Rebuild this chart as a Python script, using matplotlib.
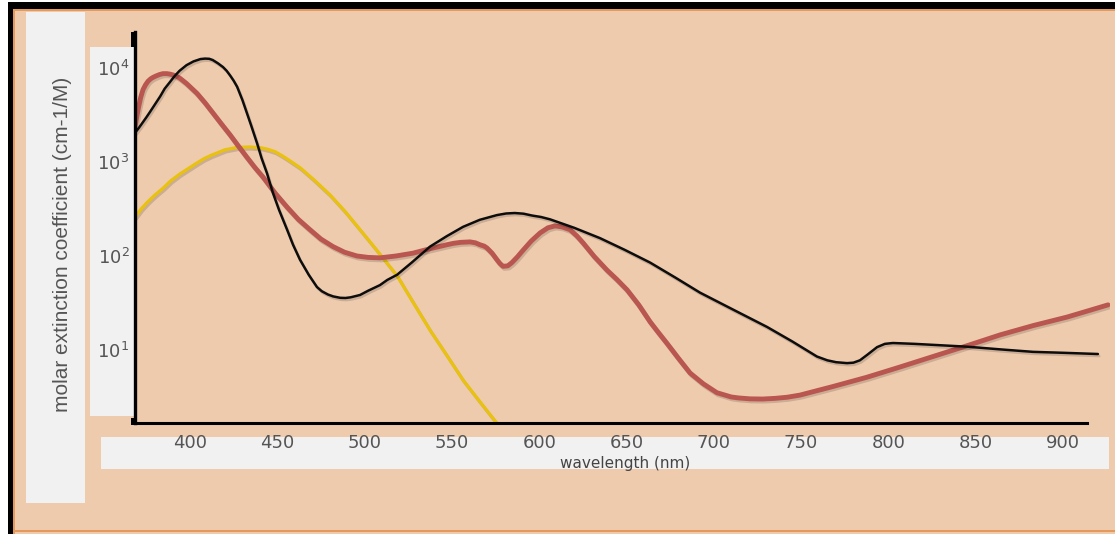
import numpy as np
import matplotlib
matplotlib.use("Agg")
import matplotlib.pyplot as plt
from matplotlib.patches import Rectangle
import matplotlib.patheffects as pe

# --- data (wavelength in nm, log10 of molar extinction coefficient)
black_nm = [368.5, 371, 375, 377, 380, 383, 385.5, 388.5, 391, 394, 398, 402, 406, 408.6,
            411, 413, 416, 418.9, 421, 423, 425, 427, 430, 432.6, 435, 438.4, 441, 444.1,
            447.5, 451, 455.6, 459, 463, 468, 472.7, 475.5, 479, 482, 486, 489, 492, 497.4,
            502, 508.8, 513, 518.6, 527, 537.5, 547, 556.4, 566, 575.8, 581, 586, 591, 596,
            601, 606.2, 620, 634.8, 649, 663.5, 678, 692.1, 711, 730.5, 745, 759.1, 765,
            770, 776.3, 780, 783.7, 788, 793.5, 798, 802.6, 815, 830, 845, 865, 882.8, 900,
            920]
black_log = [3.31, 3.37, 3.475, 3.53, 3.615, 3.70, 3.78, 3.85, 3.91, 3.97, 4.03, 4.07, 4.095,
             4.10, 4.098, 4.085, 4.05, 4.01, 3.97, 3.92, 3.865, 3.80, 3.66, 3.52, 3.39, 3.20,
             3.04, 2.88, 2.67, 2.49, 2.28, 2.12, 1.96, 1.80, 1.67, 1.625, 1.59, 1.57, 1.555,
             1.553, 1.56, 1.585, 1.63, 1.69, 1.745, 1.80, 1.93, 2.10, 2.21, 2.31, 2.385,
             2.435, 2.452, 2.457, 2.45, 2.43, 2.415, 2.39, 2.30, 2.19, 2.065, 1.93, 1.77,
             1.61, 1.43, 1.245, 1.09, 0.93, 0.89, 0.87, 0.86, 0.865, 0.89, 0.95, 1.03,
             1.065, 1.074, 1.065, 1.05, 1.035, 1.005, 0.98, 0.97, 0.957]

red_nm = [368.5, 369.5, 370.5, 371.8, 373.1, 374.5, 376, 377.5, 378.8, 380.5, 382.5, 384.5,
          386.8, 388.5, 390.5, 392.5, 394.3, 398, 404, 408.6, 413.2, 418, 422.9, 427.7,
          432.6, 437, 441.8, 448.7, 455.6, 462, 468.7, 475, 481.9, 488.5, 495.6, 502,
          508.8, 518, 527.7, 537, 547.2, 551, 555, 560.4, 563.5, 566, 568.5, 570.1, 573,
          575.8, 577.5, 579.3, 582, 584.4, 587.5, 590.7, 595.5, 600.5, 605, 609, 613,
          617.6, 621.5, 625.1, 631.5, 638.8, 644.5, 650.3, 657, 663.5, 668.5, 673.2,
          679.8, 686.4, 694, 701.8, 710, 714, 720.7, 728, 735, 742, 749.4, 768, 787.7,
          806, 825.5, 845, 863.9, 883, 902.3, 915, 925.8]
red_log = [3.37, 3.48, 3.58, 3.69, 3.77, 3.82, 3.86, 3.885, 3.90, 3.915, 3.93, 3.94,
           3.94, 3.935, 3.925, 3.91, 3.89, 3.835, 3.73, 3.63, 3.52, 3.405, 3.29, 3.17,
           3.05, 2.945, 2.84, 2.67, 2.52, 2.39, 2.28, 2.18, 2.10, 2.04, 2.00, 1.985,
           1.98, 2.00, 2.03, 2.075, 2.12, 2.135, 2.145, 2.15, 2.14, 2.12, 2.105, 2.085, 2.03,
           1.96, 1.92, 1.89, 1.895, 1.93, 1.99, 2.06, 2.16, 2.245, 2.30, 2.32, 2.31,
           2.28, 2.215, 2.14, 1.995, 1.85, 1.75, 1.64, 1.48, 1.30, 1.18, 1.07,
           0.91, 0.755, 0.64, 0.545, 0.50, 0.49, 0.48, 0.478, 0.485, 0.497, 0.52, 0.61, 0.71,
           0.815, 0.93, 1.045, 1.16, 1.26, 1.35, 1.42, 1.48]

yellow_nm = [368.5, 372, 376, 380, 384.5, 389, 394, 399, 404, 408, 412, 416, 420, 427,
             434.4, 441, 444.5, 448.7, 452, 455, 459, 463, 471, 480.2, 489, 497.4, 504,
             510.5, 518.6, 528, 537.5, 547, 556.4, 566, 575.8, 580]
yellow_log = [2.415, 2.50, 2.58, 2.65, 2.72, 2.80, 2.87, 2.93, 2.99, 3.035, 3.07, 3.10, 3.13,
              3.155, 3.16, 3.15, 3.135, 3.11, 3.075, 3.04, 2.99, 2.94, 2.81, 2.65, 2.47, 2.28,
              2.13, 1.98, 1.79, 1.50, 1.21, 0.945, 0.68, 0.45, 0.22, 0.11]

xticks = [400, 450, 500, 550, 600, 650, 700, 750, 800, 850, 900]
yticks = [10, 100, 1000, 10000]
ytick_labels = [r'$\mathdefault{10^{1}}$', r'$\mathdefault{10^{2}}$',
                r'$\mathdefault{10^{3}}$', r'$\mathdefault{10^{4}}$']

W, H = 1115, 534
peach = '#EFCBAE'
box = '#F1F1F1'

plt.rcParams['font.family'] = ['DejaVu Sans']
fig = plt.figure(figsize=(W / 100, H / 100), dpi=100, facecolor='white')

def rect(x0, y0, x1, y1, color, z=0):
    # pixel box (top-left origin) -> figure fraction
    fig.add_artist(Rectangle((x0 / W, 1 - y1 / H), (x1 - x0) / W, (y1 - y0) / H,
                             transform=fig.transFigure, color=color, lw=0, zorder=z))

# frame / background
rect(8, 2, W, H, peach, -5)
rect(8, 2, W, 9, '#000000', -4)
rect(8, 2, 13, H, '#000000', -4)
rect(13, 9, W, 11, '#E59A5C', -4)
rect(13, 11, 15, H, '#E59A5C', -4)
rect(13, 530, W, 532, '#E59A5C', -4)
# white label boxes
rect(26, 12, 85, 503, box, -3)
rect(90, 47, 135, 416, box, -3)
rect(101, 437, 1109, 469, box, -3)

# axes
x_left = 400 + (135 - 190) / 1.746
x_right = 400 + (1110 - 190) / 1.746
x_axis_end = 400 + (1087 - 190) / 1.746
ax = fig.add_axes([135 / W, 1 - 423 / H, (1110 - 135) / W, (423 - 32) / H])
ax.patch.set_visible(False)
ax.set_yscale('log')
ax.set_xlim(x_left, x_right)
ax.set_ylim(10 ** 0.223, 10 ** 4.383)

shadow = [pe.SimpleLineShadow(offset=(1, -1.5), alpha=0.15), pe.Normal()]
ax.plot(yellow_nm, 10 ** np.array(yellow_log), color='#E8C20E', lw=2.3,
        solid_capstyle='round', solid_joinstyle='round', path_effects=shadow)
ax.plot(red_nm, 10 ** np.array(red_log), color='#B8564F', lw=3.5,
        solid_capstyle='round', solid_joinstyle='round', path_effects=shadow)
ax.plot(black_nm, 10 ** np.array(black_log), color='#0d0d0d', lw=1.8,
        solid_capstyle='round', solid_joinstyle='round', path_effects=shadow)

for s in ['top', 'right']:
    ax.spines[s].set_visible(False)
ax.spines['left'].set_linewidth(2.4)
ax.spines['bottom'].set_linewidth(2.2)
ax.spines['bottom'].set_bounds(x_axis_end, x_left)
ax.spines['left'].set_color('#000000')

ax.set_xticks(xticks)
ax.set_xticklabels([str(t) for t in xticks])
ax.set_yticks(yticks)
ax.set_yticklabels(ytick_labels)
ax.minorticks_off()
ax.tick_params(axis='x', length=0, pad=8, labelsize=13, labelcolor='#555555')
ax.tick_params(axis='y', length=0, pad=4, labelsize=13, labelcolor='#555555')

# thick stub at the top of the y axis and corner blob
rect(131, 32, 137, 47, '#000000', 5)
rect(131, 418, 137, 425, '#000000', 5)

fig.text(625 / W, 1 - 456 / H, 'wavelength (nm)', ha='center', va='top',
         fontsize=11, color='#444444')
fig.text(63 / W, 1 - 244 / H, 'molar extinction coefficient (cm-1/M)', rotation=90,
         ha='center', va='center', fontsize=15, color='#555555',
         family=['Liberation Sans', 'DejaVu Sans'])

fig.savefig('out.png', dpi=100, facecolor=fig.get_facecolor())
